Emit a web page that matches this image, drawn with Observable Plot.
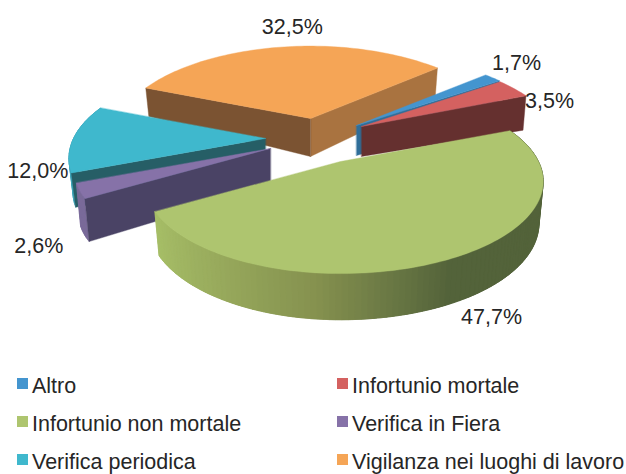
<!DOCTYPE html>
<html>
<head>
<meta charset="utf-8">
<script src="https://cdn.jsdelivr.net/npm/d3@7"></script>
<script src="https://cdn.jsdelivr.net/npm/@observablehq/plot@0.6"></script>
<style>
html,body{margin:0;padding:0;background:#fff;width:626px;height:474px;overflow:hidden}
#legend{position:relative;height:108px;font:21.5px "Liberation Sans",Arial,sans-serif;color:#262626}
#legend div{position:absolute;white-space:nowrap;line-height:24px}
#legend i{position:absolute;left:-15px;top:4px;width:11px;height:11px}
svg{display:block}
</style>
</head>
<body>
<div id="chart"></div>
<div id="legend"></div>
<script>
const categories = ["Altro","Infortunio mortale","Infortunio non mortale","Verifica in Fiera","Verifica periodica","Vigilanza nei luoghi di lavoro"];
const values = [1.7,3.5,47.7,2.6,12.0,32.5];
const labels = ["1,7%","3,5%","47,7%","2,6%","12,0%","32,5%"];
const topColors = ["#4495cf","#d46160","#aec56f","#8672a8","#3fb8cd","#f5a556"];
const edgeColors = ["#2f6e99","#65302f",null,"#4a4365","#265e66",null];

// layout of the 3-D view
const W = 626, H = 366;
const startAngle = 49, Rr = 198, Rl = 192, Ry = 88, persp = 0.215;
const rightPersp = [0.24,0.3,0.215,0.215,0.215,0.27];
const apexes = [[356,125],[361,126],[340,161],[270,148],[265,138],[310,118]];
const wallApex = [30,30,41,38,32,38], wallRim = [33,34,41,44,35,28];
const labelNudge = [[24,-15],[36,13],[42,58],[-41,55],[-36,33],[8,-20]];

const rad = d => d * Math.PI / 180;
function project(i, angle, r = 1) {
  const u = Math.sin(rad(angle)) * r, v = Math.cos(rad(angle)) * r;
  const s = 1 / (1 + persp * v);
  const sx = u > 0 && v > 0 ? 1 / (1 + rightPersp[i] * v) : s;
  return [apexes[i][0] + u * (u < 0 ? Rl : Rr) * sx, apexes[i][1] - v * Ry * s];
}
function lowered(i, angle, r, h) {
  const [x, y] = project(i, angle, r * 0.98);
  return [x, y + h];
}
const rows = [];
let nid = 0;
function poly(pts, fill) { const id = nid++; pts.forEach(([x, y]) => rows.push({id, x, y, fill})); }

let acc = startAngle;
const slices = values.map((v, i) => { const a0 = acc; acc += v * 3.6; return {i, a0, a1: acc}; });
const steps = (a0, a1) => { const n = Math.ceil((a1 - a0) / 1.5); return d3.range(n + 1).map(k => a0 + (a1 - a0) * k / n); };

function topFace(s) {
  poly([project(s.i, 0, 0), ...steps(s.a0, s.a1).map(a => project(s.i, a))], topColors[s.i]);
}
function edgeWall(s, angle, fill) {
  const h0 = wallApex[s.i], h1 = wallRim[s.i];
  poly([project(s.i, angle, 0), project(s.i, angle, 1), lowered(s.i, angle, 1, h1), lowered(s.i, angle, 0, h0)], fill);
}
function rimWall(s, colorOf, h) {
  // each band reaches past the next one, which is painted over it, so no seams appear
  const as = steps(s.a0, s.a1);
  for (let k = 0; k < as.length - 1; k++) {
    const rest = as.slice(k, Math.min(k + 4, as.length));
    poly([...rest.map(a => project(s.i, a)), ...rest.slice().reverse().map(a => lowered(s.i, a, 1, h(a)))], colorOf((as[k] + as[k + 1]) / 2));
  }
}
const [altro, mortale, green, fiera, periodica, vigilanza] = slices;
const greenShade = d3.scaleLinear().domain([-0.9, -0.1, 0.45]).range(["#a8c068", "#85914f", "#53633a"]).clamp(true);

// back to front
edgeWall(vigilanza, vigilanza.a1, "#a97340");
edgeWall(vigilanza, vigilanza.a0, "#7b5332");
topFace(vigilanza);
rimWall(periodica, () => "#3fa5b8", () => 35);
edgeWall(periodica, periodica.a0, edgeColors[4]);
topFace(periodica);
edgeWall(altro, altro.a1, edgeColors[0]);
topFace(altro);
edgeWall(mortale, mortale.a1, edgeColors[1]);
topFace(mortale);
rimWall(fiera, () => "#7a6a99", () => 44);
edgeWall(fiera, fiera.a0, edgeColors[3]);
topFace(fiera);
rimWall(green, a => greenShade(Math.sin(rad(a))), a => 41 - 8 * Math.cos(rad(a)));
topFace(green);

const labelRows = slices.map(s => {
  const [x, y] = project(s.i, (s.a0 + s.a1) / 2);
  return {x: x + labelNudge[s.i][0], y: y + labelNudge[s.i][1], text: labels[s.i]};
});

const chart = Plot.plot({
  width: W, height: H, margin: 0,
  x: {domain: [0, W], range: [0, W], axis: null},
  y: {domain: [0, H], range: [0, H], axis: null},
  color: {type: "identity"},
  marks: [
    Plot.line(rows, {x: "x", y: "y", z: "id", fill: "fill", stroke: "fill", strokeWidth: 0.4, curve: "linear-closed"}),
    Plot.text(labelRows, {x: "x", y: "y", text: "text", fontSize: 21.5, fontFamily: "Liberation Sans", fill: "#262626"})
  ]
});
document.getElementById("chart").appendChild(chart);

const legend = document.getElementById("legend");
categories.forEach((c, i) => {
  const row = Math.floor(i / 2), col = i % 2;
  const d = document.createElement("div");
  d.style.left = (col ? 352 : 32) + "px";
  d.style.top = (8 + row * 38) + "px";
  const sw = document.createElement("i");
  sw.style.background = topColors[i];
  d.appendChild(sw);
  d.appendChild(document.createTextNode(c));
  legend.appendChild(d);
});
</script>
</body>
</html>
